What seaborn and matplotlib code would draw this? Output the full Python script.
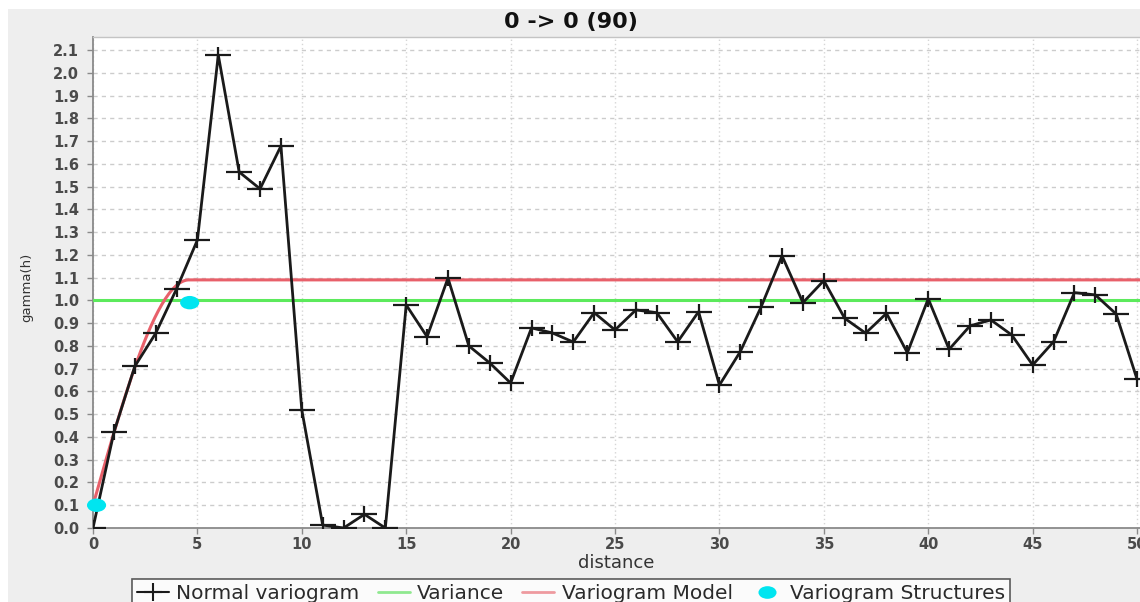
import numpy as np
import pandas as pd
import matplotlib
matplotlib.use("Agg")
import matplotlib.pyplot as plt
from matplotlib.lines import Line2D
from matplotlib.patches import Rectangle
from matplotlib.path import Path
from matplotlib.transforms import Affine2D
import seaborn as sns

# Experimental variogram: lag distance and gamma(h)
distance = list(range(0, 51))
gamma = [0.0, 0.42, 0.71, 0.855, 1.05, 1.265, 2.078, 1.564, 1.49, 1.678,
         0.518, 0.013, 0.0, 0.06, 0.0, 0.98, 0.84, 1.098, 0.80, 0.725,
         0.637, 0.879, 0.857, 0.817, 0.946, 0.87, 0.958, 0.946, 0.818, 0.95,
         0.628, 0.775, 0.972, 1.195, 0.99, 1.087, 0.921, 0.856, 0.943, 0.77,
         1.007, 0.785, 0.888, 0.914, 0.848, 0.716, 0.818, 1.034, 1.024, 0.94,
         0.653]

# Sample variance
variance = 1.0

# Fitted spherical model: nugget + one structure (sill, range)
nugget = 0.1
struct_sill = 0.99
struct_range = 4.6

# Structure markers (distance, gamma)
struct_x = [0.17, 4.63]
struct_y = [0.1, 0.99]

x_ticks = list(range(0, 51, 5))
y_ticks = [round(v * 0.1, 1) for v in range(0, 22)]

title = "0 -> 0 (90)"

# Wide plus and flattened dot markers
plus_wide = Path([(-1, 0), (1, 0), (0, -0.6), (0, 0.6)],
                 [Path.MOVETO, Path.LINETO, Path.MOVETO, Path.LINETO])
dot_wide = Path.unit_circle().transformed(Affine2D().scale(1.0, 0.7))

sns.set_theme(style="white")
plt.rcParams["font.family"] = ["DejaVu Sans"]

W, H = 1140, 602
fig = plt.figure(figsize=(W / 100, H / 100), dpi=100, facecolor="white")
panel = Rectangle((8 / W, 0), 1 - 8 / W, (H - 9) / H,
                  transform=fig.transFigure, facecolor="#EEEEEE",
                  edgecolor="none", zorder=-5)
fig.add_artist(panel)

ax = fig.add_axes([93 / W, (H - 528) / H, (1150 - 93) / W, (528 - 37) / H])
ax.set_zorder(2)
ax.set_facecolor("white")

# Model curve (spherical)
h = np.linspace(0, 50.6, 600)
r = np.clip(h / struct_range, 0, 1)
model = nugget + struct_sill * (1.5 * r - 0.5 * r ** 3)
model_df = pd.DataFrame({"distance": h, "gamma": model})

vario_df = pd.DataFrame({"distance": distance, "gamma": gamma})
struct_df = pd.DataFrame({"distance": struct_x, "gamma": struct_y})

green = "#5CEA5C"
red = "#E8606A"
cyan = "#00E5F0"

ax.axhline(variance, color=green, lw=2.2, zorder=3)
sns.lineplot(data=model_df, x="distance", y="gamma", ax=ax, color=red,
             lw=2.2, zorder=3)
sns.lineplot(data=vario_df, x="distance", y="gamma", ax=ax, color="#1A1A1A",
             lw=2.0, marker=plus_wide, markersize=19, markeredgewidth=1.6,
             markeredgecolor="#1A1A1A", zorder=4)
sns.scatterplot(data=struct_df, x="distance", y="gamma", ax=ax, color=cyan,
                marker=dot_wide, s=190, edgecolor="none", zorder=5,
                clip_on=False)

ax.set_xlim(0, 50.62)
ax.set_ylim(0, 2.157)
ax.set_xticks(x_ticks)
ax.set_yticks(y_ticks)
ax.set_xticklabels([str(v) for v in x_ticks])
ax.set_yticklabels([f"{v:.1f}" for v in y_ticks])

ax.grid(axis="y", linestyle=(0, (3, 3)), color="#CCCCCC", lw=1.0)
ax.grid(axis="x", linestyle=(0, (1, 2)), color="#D6D6D6", lw=1.0)
ax.set_axisbelow(True)

for s in ["left", "bottom"]:
    ax.spines[s].set_color("#8A8A8A")
    ax.spines[s].set_linewidth(1.3)
ax.spines["top"].set_color("#C4C4C4")
ax.spines["top"].set_linewidth(1.0)
ax.spines["right"].set_visible(False)

ax.tick_params(axis="both", which="major", direction="out", length=4,
               width=1, color="#8A8A8A", labelcolor="#4A4A4A",
               labelsize=10.5, pad=6, bottom=True, left=True)
ax.tick_params(axis="x", pad=2.5)
for lab in ax.get_xticklabels() + ax.get_yticklabels():
    lab.set_fontweight("bold")

ax.set_xlabel("distance", fontsize=13, color="#333333")
ax.set_ylabel("gamma(h)", fontsize=9.5, color="#333333")
ax.yaxis.set_label_coords(-60 / (1150 - 93), (528 - 287) / (528 - 37))
ax.xaxis.set_label_coords((616 - 93) / (1150 - 93), -(554 - 528) / (528 - 37))

fig.text(571 / W, 1 - 22 / H, title, ha="center", va="center",
         fontsize=16, fontweight="bold", color="#111111")

handles = [
    Line2D([], [], color="#1A1A1A", lw=1.5, marker="+", markersize=13,
           markeredgewidth=1.5),
    Line2D([], [], color="#8FE88F", lw=2),
    Line2D([], [], color="#EE9A9F", lw=2),
    Line2D([], [], color=cyan, lw=0, marker=dot_wide, markersize=13,
           markeredgewidth=0),
]
labels = ["Normal variogram", "Variance", "Variogram Model",
          "Variogram Structures"]
leg = fig.legend(handles, labels, loc="upper center",
                 bbox_to_anchor=(571 / W, 1 - 579 / H), ncol=4,
                 frameon=True, fancybox=False, fontsize=14.5,
                 handlelength=1.6, handletextpad=0.35, columnspacing=0.9,
                 borderpad=0.25, borderaxespad=0)
leg.get_frame().set_edgecolor("#333333")
leg.get_frame().set_linewidth(1.2)
leg.get_frame().set_facecolor("white")
for t in leg.get_texts():
    t.set_color("#2A2A2A")

fig.savefig("out.png", dpi=100, facecolor=fig.get_facecolor())
